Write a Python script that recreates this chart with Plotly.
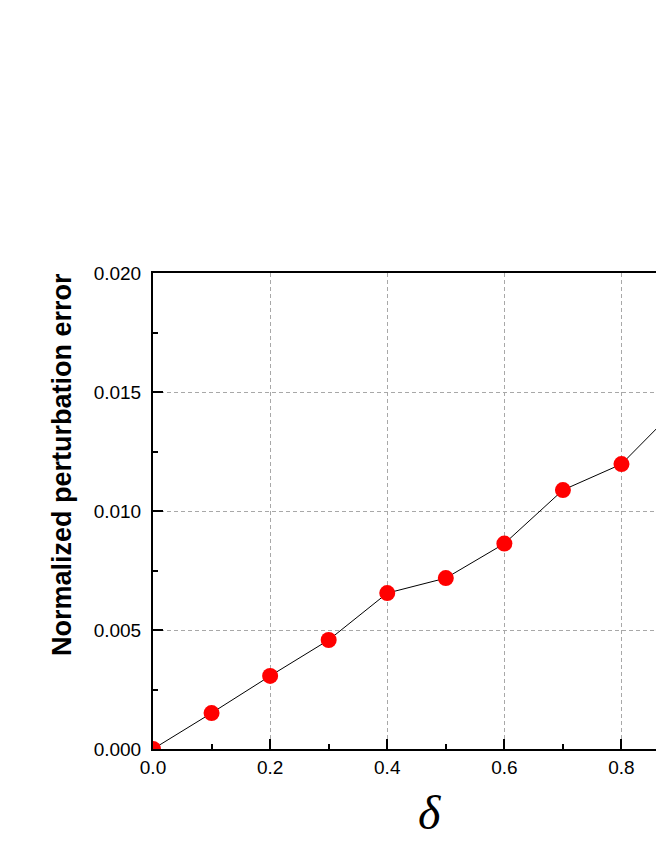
import plotly.graph_objects as go

# data
delta = [0.0, 0.1, 0.2, 0.3, 0.4, 0.5, 0.6, 0.7, 0.8, 0.9]
error = [0.0, 0.00151, 0.00307, 0.00458, 0.00655, 0.00718, 0.00863, 0.01088, 0.01197, 0.01446]

x_ticks = [0.0, 0.2, 0.4, 0.6, 0.8]
x_labels = ["0.0", "0.2", "0.4", "0.6", "0.8"]
y_ticks = [0.000, 0.005, 0.010, 0.015, 0.020]
y_labels = ["0.000", "0.005", "0.010", "0.015", "0.020"]

# page body has an 8px margin, so the figure is sized to fit the window
fig = go.Figure()
fig.add_trace(go.Scatter(
    x=delta, y=error, mode="lines+markers",
    line=dict(color="black", width=1),
    marker=dict(color="#ff0000", size=16),
    showlegend=False,
))

fig.update_layout(
    width=656, height=852,
    margin=dict(l=145, r=0, t=265, b=111),
    plot_bgcolor="white", paper_bgcolor="white",
    font=dict(family="Liberation Sans, Arial", size=19, color="black"),
)

fig.update_xaxes(
    range=[0, 0.8726], tickvals=x_ticks, ticktext=x_labels,
    showline=True, linecolor="black", linewidth=2, mirror=True,
    ticks="inside", ticklen=10, tickwidth=2, tickcolor="black",
    minor=dict(dtick=0.1, tick0=0.1, ticks="inside", ticklen=5, tickwidth=2,
               tickcolor="black", showgrid=False),
    showgrid=True, gridcolor="#a8a8a8", griddash="4px,3px", gridwidth=1,
    zeroline=False,
)
fig.update_yaxes(
    range=[0, 0.02], tickvals=y_ticks, ticktext=y_labels,
    showline=True, linecolor="black", linewidth=2, mirror=False,
    ticks="inside", ticklen=10, tickwidth=2, tickcolor="black",
    ticklabelstandoff=6,
    minor=dict(dtick=0.0025, tick0=0.0025, ticks="inside", ticklen=5, tickwidth=2,
               tickcolor="black", showgrid=False),
    showgrid=True, gridcolor="#a8a8a8", griddash="4px,3px", gridwidth=1,
    zeroline=False,
)

# axis titles
fig.add_annotation(
    text="<b>Normalized perturbation error</b>", textangle=-90,
    xref="paper", yref="paper", x=(54 - 145) / 511, y=(741 - 457) / 476,
    xanchor="center", yanchor="middle",
    showarrow=False, font=dict(size=27, family="Liberation Sans, Arial"),
)
fig.add_annotation(
    text="<i>δ</i>", xref="x", yref="paper", x=0.473, y=-(804 - 741) / 476,
    xanchor="center", yanchor="middle",
    showarrow=False, font=dict(size=48, family="Liberation Serif, Times New Roman"),
)

fig.write_html("out.html")
